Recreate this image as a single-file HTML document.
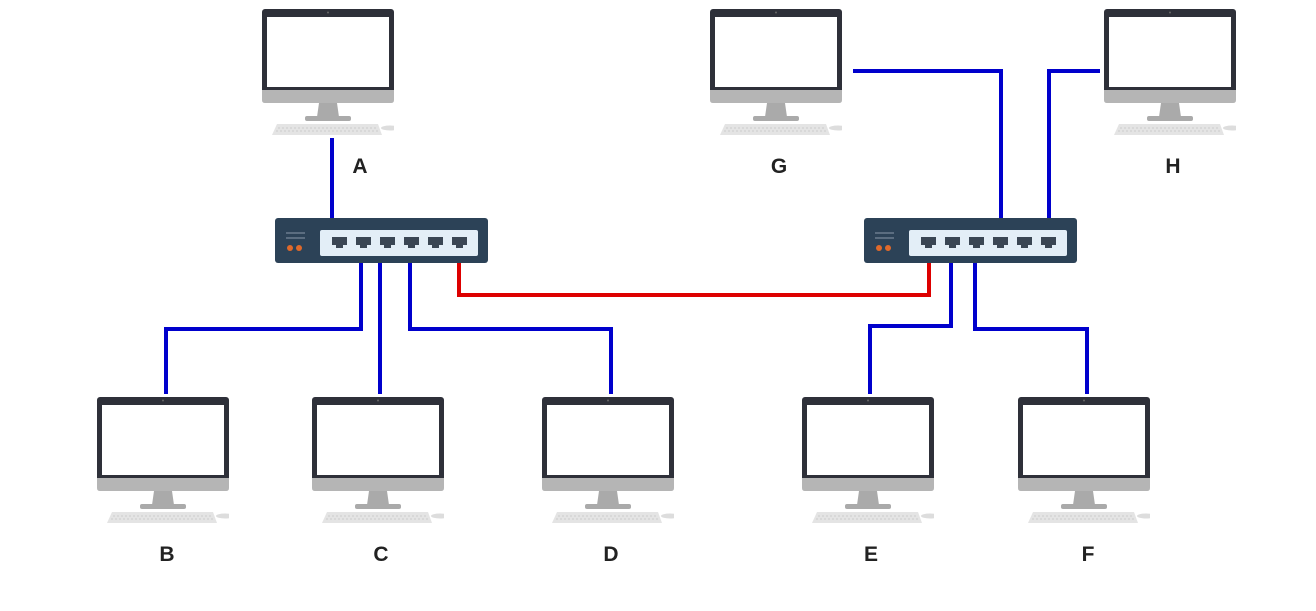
<!DOCTYPE html>
<html><head><meta charset="utf-8"><style>
html,body{margin:0;padding:0;background:#fff;}
svg{display:block}
text{font-family:"Liberation Sans",sans-serif;font-weight:bold;font-size:21px;fill:#222;text-anchor:middle}
</style></head><body>
<svg width="1316" height="611" viewBox="0 0 1316 611" xmlns="http://www.w3.org/2000/svg">
<defs>
<symbol id="pc" viewBox="0 0 132 126" preserveAspectRatio="none">
<rect x="0" y="0" width="132" height="84" rx="3" fill="#2e3039"/>
<rect x="5" y="8" width="122" height="70" fill="#fff"/>
<circle cx="66" cy="3.5" r="1" fill="#666"/>
<path d="M0 81 H132 V91 Q132 94 129 94 H3 Q0 94 0 91 Z" fill="#b5b5b5"/>
<polygon points="57,94 75,94 77,108 55,108" fill="#aaa"/>
<rect x="43" y="107" width="46" height="5" rx="2" fill="#aaa"/>
<polygon points="15,115 116,115 120,126 10,126" fill="#e4e4e4"/>
<line x1="16" y1="119" x2="115" y2="119" stroke="#ccc" stroke-width="1" stroke-dasharray="2 2"/>
<line x1="14" y1="122" x2="117" y2="122" stroke="#ccc" stroke-width="1" stroke-dasharray="2 2"/>
<ellipse cx="128" cy="119" rx="9" ry="2.5" fill="#ddd"/>
</symbol>
<symbol id="sw" viewBox="0 0 213 45">
<rect x="0" y="0" width="213" height="45" rx="3" fill="#2c4257"/>
<line x1="11" y1="15" x2="30" y2="15" stroke="#8a98a8" stroke-width="1"/>
<line x1="11" y1="20" x2="30" y2="20" stroke="#8a98a8" stroke-width="1"/>
<circle cx="15" cy="30" r="3" fill="#e0692a"/>
<circle cx="24" cy="30" r="3" fill="#e0692a"/>
<rect x="45" y="12" width="158" height="26" rx="2" fill="#e3eef7"/>
<g fill="#3a4654">
<path d="M57 19h15v8h-4v3h-7v-3h-4z"/>
<path d="M81 19h15v8h-4v3h-7v-3h-4z"/>
<path d="M105 19h15v8h-4v3h-7v-3h-4z"/>
<path d="M129 19h15v8h-4v3h-7v-3h-4z"/>
<path d="M153 19h15v8h-4v3h-7v-3h-4z"/>
<path d="M177 19h15v8h-4v3h-7v-3h-4z"/>
</g>
</symbol>
</defs>
<g fill="none" stroke="#0000cc" stroke-width="4">
<path d="M332 138 V218"/>
<path d="M361 263 V329 H166 V394"/>
<path d="M380 263 V394"/>
<path d="M410 263 V329 H611 V394"/>
<path d="M951 263 V326 H870 V394"/>
<path d="M975 263 V329 H1087 V394"/>
<path d="M853 71 H1001 V218"/>
<path d="M1100 71 H1049 V218"/>
</g>
<path d="M459 263 V295 H929 V263" fill="none" stroke="#dd0000" stroke-width="4"/>
<use href="#sw" x="275" y="218" width="213" height="45"/>
<use href="#sw" x="864" y="218" width="213" height="45"/>
<use href="#pc" x="262" y="9" width="132" height="126"/>
<use href="#pc" x="710" y="9" width="132" height="126"/>
<use href="#pc" x="1104" y="9" width="132" height="126"/>
<use href="#pc" x="97" y="397" width="132" height="126"/>
<use href="#pc" x="312" y="397" width="132" height="126"/>
<use href="#pc" x="542" y="397" width="132" height="126"/>
<use href="#pc" x="802" y="397" width="132" height="126"/>
<use href="#pc" x="1018" y="397" width="132" height="126"/>
<text x="360" y="173">A</text>
<text x="779" y="173">G</text>
<text x="1173" y="173">H</text>
<text x="167" y="561">B</text>
<text x="381" y="561">C</text>
<text x="611" y="561">D</text>
<text x="871" y="561">E</text>
<text x="1088" y="561">F</text>
</svg>
</body></html>
